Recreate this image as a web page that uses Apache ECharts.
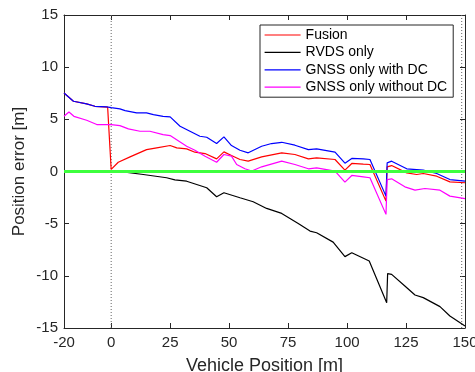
<!DOCTYPE html>
<html>
<head>
<meta charset="utf-8">
<script src="https://cdn.jsdelivr.net/npm/echarts@6/dist/echarts.min.js"></script>
<style>html,body{margin:0;padding:0;background:#fff}#c{width:475px;height:372px}</style>
</head>
<body>
<div id="c"></div>
<script>
// ---- data ----
const xTicks = [-20, 0, 25, 50, 75, 100, 125, 150];
const yTicks = [-15, -10, -5, 0, 5, 10, 15];

const fusionX = [-20, -16, -10.4, -6.9, -1.5, 0, 3, 8, 15, 19.3, 25, 27.8, 32, 35.5, 39.8, 44.7, 47.8, 51, 54.6, 58.1, 63.8, 72.3, 77.9, 83.6, 87.1, 94.9, 99.1, 102, 106.9, 109.7, 116.5, 117, 118.9, 125.3, 129.5, 132.3, 138, 143.6, 150];
const fusionY = [7.53, 6.73, 6.48, 6.25, 6.17, 0.2, 0.89, 1.4, 2.1, 2.27, 2.49, 2.27, 2.17, 1.85, 1.72, 1.21, 1.88, 1.53, 1.15, 0.99, 1.4, 1.79, 1.63, 1.21, 1.31, 1.15, 0.13, 0.77, 0.7, 0.67, -2.84, 0.45, 0.57, -0.13, -0.29, -0.19, -0.45, -0.99, -1.08];

const rvdsX = [0, 5.1, 13.6, 23.5, 27, 32, 40.5, 44.7, 47.8, 54.6, 60.2, 65.9, 72.3, 75.8, 79.3, 84.3, 87.1, 94.1, 99.1, 102, 109.4, 116.8, 117.2, 118.9, 124.5, 128.8, 132.3, 139.4, 143.6, 150];
const rvdsY = [0, -0.03, -0.29, -0.6, -0.8, -0.93, -1.56, -2.42, -2.04, -2.52, -2.9, -3.54, -4.02, -4.5, -4.98, -5.71, -5.87, -6.77, -8.16, -7.78, -8.58, -12.57, -9.79, -9.86, -10.97, -11.84, -12.09, -12.95, -13.85, -14.8];

const dcX = [-20, -16, -10.4, -6.9, -1.9, 0, 3.7, 5.9, 10.8, 15, 17.9, 22, 25, 29.2, 33.4, 37.6, 40.5, 44.7, 47.8, 51, 54.6, 58.1, 63.8, 68, 72.3, 77.9, 83.6, 87.1, 94.9, 99.1, 102, 106.9, 109.7, 116.5, 117, 118.9, 125.3, 132.3, 138, 143.6, 150];
const dcY = [7.53, 6.73, 6.48, 6.25, 6.19, 6.12, 6.0, 5.84, 5.62, 5.62, 5.45, 5.29, 5.23, 4.34, 3.86, 3.38, 3.28, 2.68, 3.32, 2.49, 2.04, 1.79, 2.42, 2.68, 2.8, 2.52, 2.1, 2.17, 1.85, 0.8, 1.25, 1.21, 1.15, -2.36, 0.83, 0.99, 0.26, 0.13, -0.19, -0.77, -0.93];

const noDcX = [-20, -17.9, -15.8, -10.4, -6.1, 0, 3.7, 7.3, 12.2, 16.4, 22, 25, 32, 35.5, 39.8, 44.7, 47.8, 51, 53.2, 56.7, 59.6, 63.8, 72.3, 77.9, 83.6, 87.1, 94.9, 99.1, 102, 106.9, 109.7, 116.5, 117, 118.9, 124.5, 128.8, 133, 139.4, 143.6, 150];
const noDcY = [5.29, 5.71, 5.29, 4.91, 4.5, 4.5, 4.4, 4.08, 3.86, 3.86, 3.54, 3.44, 2.42, 2.04, 1.47, 0.89, 1.63, 1.47, 0.67, 0.26, 0.05, 0.45, 0.99, 0.67, 0.26, 0.35, 0.03, -1.02, -0.38, -0.51, -0.6, -4.11, -0.77, -0.7, -1.47, -1.79, -1.63, -1.79, -2.36, -2.6];

const zeroLineX = [-20, 150];
const zeroLineY = [0, 0];
const markerLinesX = [0, 148.6];

// ---- chart ----
const zip = (xs, ys) => xs.map((x, i) => [x, ys[i]]);
const FONT = '"Liberation Sans", Arial, Helvetica, sans-serif';
const AX = '#262626';

const chart = echarts.init(document.getElementById('c'), null, { renderer: 'canvas' });

function lineSeries(name, xs, ys, color, extra) {
  return Object.assign({
    name, type: 'line', data: zip(xs, ys), showSymbol: false, symbol: 'none',
    lineStyle: { color, width: 1.2 }, itemStyle: { color },
    animation: false, silent: true
  }, extra || {});
}

const series = [
  lineSeries('Fusion', fusionX, fusionY, '#ff0000'),
  lineSeries('RVDS only', rvdsX, rvdsY, '#000000'),
  lineSeries('GNSS only with DC', dcX, dcY, '#0000ff'),
  lineSeries('GNSS only without DC', noDcX, noDcY, '#ff00ff'),
  lineSeries('zero', zeroLineX, zeroLineY, '#3dff3d', { lineStyle: { color: '#3dff3d', width: 3 }, z: 5 })
];
markerLinesX.forEach((x, i) => {
  series.push(lineSeries('mark' + i, [x, x], [-15, 15], '#666', { lineStyle: { color: '#666', width: 1, type: [1, 2] }, z: 1 }));
});

const xCommon = { type: 'value', min: -20, max: 150,
  axisLine: { show: true, onZero: false, lineStyle: { color: AX, width: 1 } },
  splitLine: { show: false } };
const yCommon = { type: 'value', min: -15, max: 15, interval: 5,
  axisLine: { show: true, onZero: false, lineStyle: { color: AX, width: 1 } },
  splitLine: { show: false } };

chart.setOption({
  backgroundColor: '#fff',
  animation: false,
  grid: { left: 64, right: 10, top: 15, bottom: 44, containLabel: false, outerBoundsMode: 'none' },
  legend: {
    data: ['Fusion', 'RVDS only', 'GNSS only with DC', 'GNSS only without DC'],
    orient: 'vertical', left: 260, top: 25,
    padding: [3, 6, 3, 4], itemGap: 3.4, itemWidth: 36, itemHeight: 14, itemTextGap: 4,
    itemStyle: { opacity: 0, borderWidth: 0 },
    lineStyle: { width: 1.2 },
    borderColor: AX, borderWidth: 1, borderRadius: 0, backgroundColor: '#fff',
    textStyle: { fontFamily: FONT, fontSize: 14, color: '#000' },
    selectedMode: false
  },
  xAxis: [
    Object.assign({}, xCommon, { position: 'bottom',
      name: 'Vehicle Position [m]', nameLocation: 'middle', nameGap: 29,
      nameTextStyle: { fontFamily: FONT, fontSize: 18, color: AX },
      axisTick: { show: true, inside: true, length: 5, customValues: xTicks, lineStyle: { color: AX } },
      axisLabel: { show: true, customValues: xTicks, margin: 7, fontFamily: FONT, fontSize: 15, color: AX } }),
    Object.assign({}, xCommon, { position: 'top',
      axisTick: { show: true, inside: true, length: 5, customValues: xTicks, lineStyle: { color: AX } },
      axisLabel: { show: false } })
  ],
  yAxis: [
    Object.assign({}, yCommon, { position: 'left',
      name: 'Position error [m]', nameLocation: 'middle', nameGap: 36, nameRotate: 90,
      nameMoveOverlap: false,
      nameTextStyle: { fontFamily: FONT, fontSize: 17, color: AX },
      axisTick: { show: true, inside: true, length: 5, lineStyle: { color: AX } },
      axisLabel: { show: true, margin: 6, fontFamily: FONT, fontSize: 15, color: AX } }),
    Object.assign({}, yCommon, { position: 'right',
      axisTick: { show: true, inside: true, length: 5, lineStyle: { color: AX } },
      axisLabel: { show: false } })
  ],
  series
});
</script>
</body>
</html>
